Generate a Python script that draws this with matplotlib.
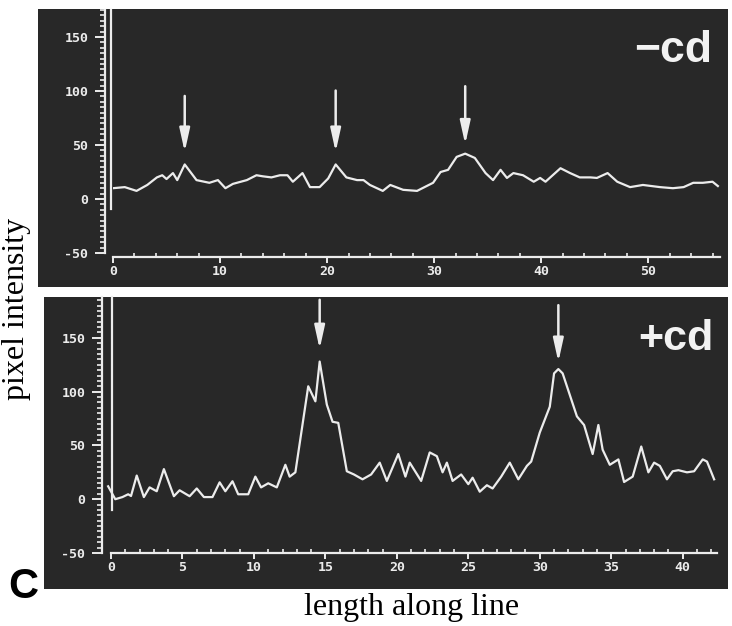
import numpy as np
import matplotlib
matplotlib.use('Agg')
import matplotlib.pyplot as plt
from matplotlib.patches import Rectangle
from matplotlib.ticker import MultipleLocator

plt.rcParams['axes.unicode_minus'] = False

# -cd profile (top panel)
top_x = [0, 1.1, 2.2, 3.2, 4.1, 4.6, 5.0, 5.6, 6.0, 6.7, 7.8, 9.0, 9.8, 10.5, 11.2, 12.5, 13.4, 14.0,
         14.8, 15.6, 16.3, 16.8, 17.7, 18.4, 19.3, 20.1, 20.8, 21.8, 22.8, 23.4, 24.0, 25.2, 25.9, 27.1,
         28.4, 29.3, 29.9, 30.6, 31.3, 32.1, 32.9, 33.8, 34.8, 35.5, 36.2, 36.8, 37.4, 38.3, 39.3, 39.9,
         40.4, 41.8, 42.7, 43.6, 44.6, 45.2, 46.2, 47.1, 48.3, 49.5, 51.1, 52.3, 53.3, 54.2, 55.1, 56.0, 56.5]
top_y = [10, 11, 7.5, 13, 20, 22, 18.5, 24, 17.5, 32, 17.5, 15, 17.5, 10, 14, 17.5, 22, 21,
         20, 22, 22, 16, 24, 11, 11, 19, 32, 20, 17.5, 17.5, 13, 7.5, 13, 8.5,
         7.5, 12, 15, 25, 27, 39, 42, 38, 24, 17.5, 27, 19.5, 24, 22, 16, 19.5,
         16, 28.5, 24, 20, 20, 19.5, 24, 16, 11, 13, 11, 10, 11, 15, 15, 16, 12]

# +cd profile (bottom panel)
bot_x = [-0.2, 0.3, 0.8, 1.2, 1.4, 1.8, 2.3, 2.7, 3.2, 3.7, 4.4, 4.8, 5.5, 6.0, 6.5, 7.1, 7.6, 8.0,
         8.5, 8.9, 9.6, 10.1, 10.5, 11.0, 11.6, 12.2, 12.5, 12.9, 13.8, 14.3, 14.6, 15.1, 15.5, 15.9,
         16.5, 17.0, 17.6, 18.2, 18.8, 19.3, 20.1, 20.6, 20.9, 21.7, 22.3, 22.8, 23.2, 23.5, 23.9, 24.5,
         25.0, 25.3, 25.8, 26.3, 26.7, 27.3, 27.9, 28.5, 29.1, 29.4, 30.0, 30.7, 31.0, 31.3, 31.6, 32.6,
         33.1, 33.7, 34.1, 34.4, 34.9, 35.5, 35.9, 36.5, 37.1, 37.6, 38.0, 38.4, 38.9, 39.3, 39.7, 40.3,
         40.8, 41.4, 41.7, 42.2]
bot_y = [12, 0, 2, 4.6, 3, 22, 2, 11, 7.4, 28, 2.8, 8.3, 2.8, 10, 2, 2, 15.7, 7.4,
         16.7, 4.6, 4.6, 21, 11, 14.8, 11, 32, 21, 25, 105, 91, 128, 88, 72, 71,
         26, 23, 18.5, 23, 34, 17, 42, 21, 34, 17, 43.5, 40, 25, 34, 17, 23,
         14, 20, 7, 13, 10, 21, 34, 18.5, 31, 35, 62, 86, 117, 121, 117, 77,
         69, 42, 69, 46, 32, 37, 16, 21, 49, 25, 34, 31, 18.5, 26, 27, 25,
         26, 37, 35, 18.5]

# arrows marking the peaks: x, tail, tip
top_arrow_x = [6.7, 20.8, 32.9]
top_arrow_tail = [98, 103, 107]
top_arrow_tip = [41, 41, 48]
bot_arrow_x = [14.6, 31.3]
bot_arrow_tail = [188, 183]
bot_arrow_tip = [137, 125]

W, H = 732, 626
bg = '#282828'
fg = '#ececec'
arrow_style = '-|>,head_length=1.0,head_width=0.22'

fig = plt.figure(figsize=(W / 100, H / 100), dpi=100)
fig.patch.set_facecolor('white')

# dark panels (pixel boxes: x0, y0 top, x1, y1 bottom)
for x0, y0, x1, y1 in [(38, 9, 728, 287), (44, 297, 728, 589)]:
    fig.patches.append(Rectangle((x0 / W, 1 - y1 / H), (x1 - x0) / W, (y1 - y0) / H,
                                 transform=fig.transFigure, facecolor=bg, edgecolor='none', zorder=-5))


def setup(ax, xmax, ymax, xmaj, xmin, left_out, bottom_out):
    ax.set_facecolor('none')
    ax.set_zorder(2)
    ax.set_xlim(0, xmax)
    ax.set_ylim(-50, ymax)
    for s in ['top', 'right']:
        ax.spines[s].set_visible(False)
    ax.spines['left'].set_position(('outward', left_out))
    ax.spines['bottom'].set_position(('outward', bottom_out))
    for s in ['left', 'bottom']:
        ax.spines[s].set_color(fg)
        ax.spines[s].set_linewidth(1.6)
    ax.set_yticks([-50, 0, 50, 100, 150])
    ax.yaxis.set_minor_locator(MultipleLocator(5))
    ax.xaxis.set_major_locator(MultipleLocator(xmaj))
    ax.xaxis.set_minor_locator(MultipleLocator(xmin))
    ax.tick_params(axis='y', which='major', direction='out', length=7, width=1.4, color=fg, pad=5)
    ax.tick_params(axis='y', which='minor', direction='out', length=3.5, width=1.2, color=fg)
    ax.tick_params(axis='x', which='major', direction='out', length=4, width=1.4, color=fg, pad=2)
    ax.tick_params(axis='x', which='minor', direction='in', length=3, width=1.2, color=fg)
    for lab in ax.get_xticklabels() + ax.get_yticklabels():
        lab.set_color(fg)
        lab.set_fontsize(9.5)
        lab.set_fontweight('bold')
        lab.set_family('DejaVu Sans Mono')


ax1 = fig.add_axes([113 / W, 1 - 253 / H, 607 / W, 243 / H])
setup(ax1, 56.7, 175, 10, 2, 5.8, 2.9)
ax1.plot(top_x, top_y, color=fg, lw=1.6)
ax1.plot([-0.2, -0.2], [-9, 175], color=fg, lw=1.6, clip_on=False)
for x, t0, t1 in zip(top_arrow_x, top_arrow_tail, top_arrow_tip):
    ax1.annotate('', xy=(x, t1), xytext=(x, t0),
                 arrowprops=dict(arrowstyle=arrow_style, color=fg, lw=1.8, mutation_scale=14))

ax2 = fig.add_axes([111 / W, 1 - 553 / H, 606 / W, 256 / H])
setup(ax2, 42.4, 188, 5, 1, 6.5, 0)
ax2.plot(bot_x, bot_y, color=fg, lw=1.6, clip_on=False)
ax2.plot([0.1, 0.1], [-10, 188], color=fg, lw=1.6, clip_on=False)
for x, t0, t1 in zip(bot_arrow_x, bot_arrow_tail, bot_arrow_tip):
    ax2.annotate('', xy=(x, t1), xytext=(x, t0),
                 arrowprops=dict(arrowstyle=arrow_style, color=fg, lw=1.8, mutation_scale=14))

# panel labels
fig.text(712 / W, 1 - 62 / H, '\u2212cd', ha='right', va='baseline', fontsize=32,
         fontweight='bold', family='Liberation Sans', color='#f2f2f2')
fig.text(713 / W, 1 - 350 / H, '+cd', ha='right', va='baseline', fontsize=31,
         fontweight='bold', family='Liberation Sans', color='#f2f2f2')
fig.text(8 / W, 1 - 598 / H, 'C', ha='left', va='baseline', fontsize=30,
         fontweight='bold', family='Liberation Sans', color='black')

fig.text(17 / W, 1 - 309 / H, 'pixel intensity', rotation=90, ha='center', va='center',
         fontsize=23, family='Liberation Serif', color='black')
fig.text(412 / W, 1 - 607 / H, 'length along line', ha='center', va='center',
         fontsize=23, family='Liberation Serif', color='black')

fig.savefig('out.png', dpi=100, facecolor='white')
